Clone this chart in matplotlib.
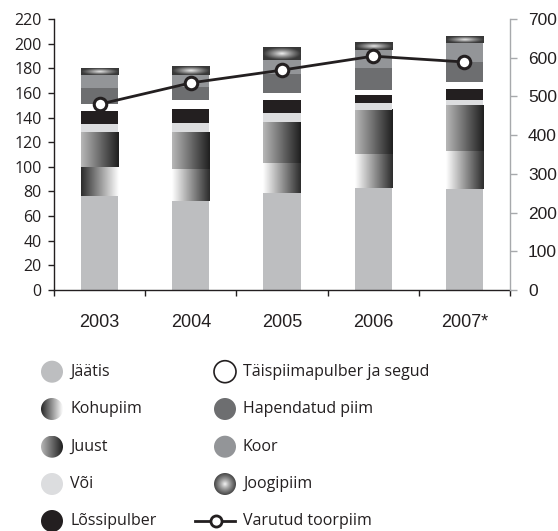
import numpy as np
import matplotlib
matplotlib.use('Agg')
import matplotlib.pyplot as plt
from matplotlib.patches import Circle
from matplotlib.lines import Line2D

years = ['2003', '2004', '2005', '2006', '2007*']
jaatis = [76, 72, 79, 83, 82]
kohupiim = [24, 26, 24, 27, 31]
juust = [28, 30, 33, 36, 37]
voi = [6.5, 7.5, 8, 5.5, 4]
lossipulber = [11, 11.5, 10, 6.5, 9.5]
taispiim = [5.5, 7, 6, 4.5, 5]
hapendatud = [13, 11, 15, 17.5, 16.5]
koor = [10.5, 9.5, 12, 14.5, 15.5]
joogipiim = [5, 6.5, 10, 6, 5.5]
varutud = [480, 535, 568, 604, 589]

series = [
    ('Jäätis', jaatis, 'flat', '#bdbec0'),
    ('Kohupiim', kohupiim, 'kohu', None),
    ('Juust', juust, 'juust', None),
    ('Või', voi, 'flat', '#dcdddf'),
    ('Lõssipulber', lossipulber, 'flat', '#231f20'),
    ('Täispiimapulber ja segud', taispiim, 'flat', 'white'),
    ('Hapendatud piim', hapendatud, 'flat', '#6d6e70'),
    ('Koor', koor, 'flat', '#939598'),
    ('Joogipiim', joogipiim, 'joogi', None),
]

W, H = 558, 531
fig = plt.figure(figsize=(W / 100, H / 100), dpi=100)
ax = fig.add_axes([54 / W, 241 / H, 456 / W, 271 / H])

x = np.arange(len(years))
bw = 0.41


def hgrad(b0, b1):
    return np.linspace(b0, b1, 256)[None, :]


def radial(nx=128, ny=128, lo=0.22):
    xx, yy = np.meshgrid(np.linspace(-1, 1, nx), np.linspace(-1, 1, ny))
    r = np.clip(np.sqrt(xx ** 2 + yy ** 2), 0, 1)
    return 1 - (1 - lo) * r ** 0.8


def fill_img(a, patch, img, z=2):
    px, py = patch.get_x(), patch.get_y()
    pw, ph = patch.get_width(), patch.get_height()
    return a.imshow(img, extent=(px, px + pw, py, py + ph), origin='lower',
                    cmap='gray', vmin=0, vmax=1, aspect='auto',
                    interpolation='bicubic', zorder=z)


bottom = np.zeros(len(years))
for name, vals, kind, col in series:
    vals = np.array(vals, dtype=float)
    if kind == 'flat':
        bars = ax.bar(x, vals, bw, bottom=bottom, color=col, linewidth=0, zorder=2)
    else:
        bars = ax.bar(x, vals, bw, bottom=bottom, color='none', linewidth=0, zorder=2)
        for i, p in enumerate(bars.patches):
            if kind == 'kohu':
                img = hgrad(0.17, 1.0) if i == 0 else hgrad(1.0, 0.17)
            elif kind == 'juust':
                img = hgrad(0.72, 0.12)
            else:
                img = radial(128, 32)
            fill_img(ax, p, img)
    bottom += vals

ax.set_xlim(-0.5, 4.5)
ax.set_ylim(0, 220)
ax.set_yticks(np.arange(0, 221, 20))
ax.set_xticks(np.arange(-0.5, 4.6, 1.0))
ax.set_xticklabels([''] * 6)
ax.set_xticks(x, minor=True)
ax.set_xticklabels(years, minor=True, fontsize=13, family='Liberation Sans', color='#231f20')
ax.tick_params(axis='x', which='minor', length=0, pad=17)
ax.tick_params(axis='x', which='major', length=4, width=1, color='#231f20', direction='out')
ax.tick_params(axis='y', length=4, width=1, color='#231f20', pad=5)
for lab in ax.get_yticklabels():
    lab.set_family('Open Sans')
    lab.set_fontsize(11.5)
    lab.set_color('#231f20')
for s in ['top', 'right']:
    ax.spines[s].set_visible(False)
ax.spines['left'].set_color('#231f20')
ax.spines['bottom'].set_color('#231f20')
ax.spines['left'].set_linewidth(1)
ax.spines['bottom'].set_linewidth(1)

ax2 = ax.twinx()
ax2.plot(x, varutud, color='#231f20', lw=2, marker='o', ms=9, mfc='white',
         mec='#231f20', mew=2.2, zorder=5, clip_on=False)
ax2.set_ylim(0, 700)
ax2.set_yticks(np.arange(0, 701, 100))
for s in ['top', 'left', 'bottom']:
    ax2.spines[s].set_visible(False)
ax2.spines['right'].set_color('#a7a9ac')
ax2.spines['right'].set_linewidth(1)
ax2.tick_params(axis='y', length=5, width=1, color='#a7a9ac', pad=8)
for lab in ax2.get_yticklabels():
    lab.set_family('Liberation Sans')
    lab.set_fontsize(12.5)
    lab.set_color('#231f20')

# legend (drawn in pixel coordinates)
lg = fig.add_axes([0, 0, 1, 1])
lg.set_xlim(0, W)
lg.set_ylim(H, 0)
lg.axis('off')
lg.patch.set_alpha(0)

rows = [371.7, 409, 446.7, 484, 521]
cols = [(52, 70), (225, 243)]
r = 11
positions = [(0, 0), (0, 1), (0, 2), (0, 3), (0, 4),
             (1, 0), (1, 1), (1, 2), (1, 3)]
for (name, vals, kind, col), (ci, ri) in zip(series, positions):
    cx, tx = cols[ci]
    cy = rows[ri]
    if kind == 'flat':
        ec = '#231f20' if col == 'white' else 'none'
        c = Circle((cx, cy), r, facecolor=col, edgecolor=ec, lw=1.2)
        lg.add_patch(c)
    else:
        c = Circle((cx, cy), r, facecolor='none', edgecolor='none')
        lg.add_patch(c)
        if kind == 'kohu':
            img = hgrad(0.15, 1.0)
        elif kind == 'juust':
            img = hgrad(0.72, 0.12)
        else:
            img = radial(64, 64, 0.28)
        im = lg.imshow(img, extent=(cx - r, cx + r, cy + r, cy - r), cmap='gray',
                       vmin=0, vmax=1, aspect='auto', interpolation='bicubic')
        im.set_clip_path(c)
    lg.text(tx, cy, name, va='center', ha='left', fontsize=11.5,
            family='Open Sans', color='#231f20')

# Varutud toorpiim legend entry
lg.add_line(Line2D([195, 235], [rows[4], rows[4]], color='#231f20', lw=2))
lg.add_line(Line2D([216], [rows[4]], marker='o', ms=8, mfc='white', mec='#231f20', mew=2))
lg.text(cols[1][1], rows[4], 'Varutud toorpiim', va='center', ha='left',
        fontsize=11.5, family='Open Sans', color='#231f20')
lg.set_xlim(0, W)
lg.set_ylim(H, 0)

fig.savefig('out.png', dpi=100)
